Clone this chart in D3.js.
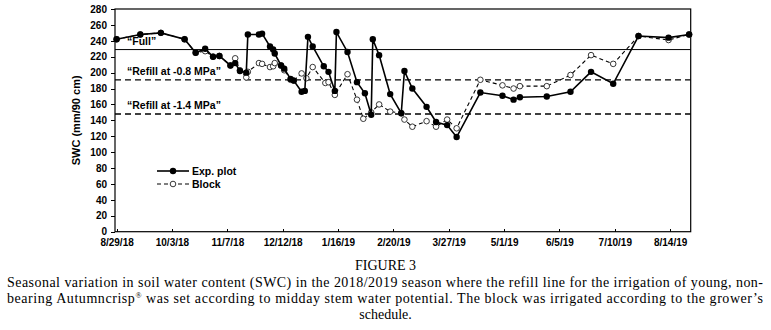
<!doctype html>
<html lang="en">
<head>
<meta charset="utf-8">
<title>SWC 2018/2019</title>
<script src="https://cdn.jsdelivr.net/npm/d3@7"></script>
<style>
	body { margin: 0; background: #fff; }
	.axis text { font: bold 10px "Liberation Sans", Arial, sans-serif; fill: #000; }
	.axis path.domain { stroke: none; }
	.axis line { stroke: #000; shape-rendering: crispEdges; }
	.lbl { font: bold 10.5px "Liberation Sans", Arial, sans-serif; fill: #000; }
	.cap { font: 14px "Liberation Serif", "Times New Roman", serif; fill: #000; }
</style>
</head>
<body>
<div id="viz"></div>
<script>
// readings
var expDates = ["8/29/18","9/13/18","9/26/18","10/11/18","10/18/18","10/24/18","10/29/18","11/2/18","11/9/18","11/12/18",
	"11/15/18","11/19/18","11/20/18","11/27/18","11/29/18","12/4/18","12/6/18","12/7/18","12/11/18","12/13/18",
	"12/17/18","12/19/18","12/24/18","12/26/18","12/28/18","12/31/18","1/7/19","1/10/19","1/14/19","1/15/19",
	"1/22/19","1/28/19","2/2/19","2/6/19","2/7/19","2/11/19","2/18/19","2/25/19","2/27/19","3/4/19",
	"3/13/19","3/19/19","3/26/19","4/1/19","4/16/19","4/30/19","5/7/19","5/11/19","5/28/19","6/12/19",
	"6/25/19","7/9/19","7/25/19","8/13/19","8/26/19"];
var expSWC = [242,248,250,242,225,230,220,221,209,212,
	202,200,248,248,249,233,229,224,209,205,
	192,190,176,177,245,233,208,201,177,251,
	226,188,174,147,242,222,173,149,202,180,
	157,138,134,119,175,171,166,169,170,176,
	201,186,246,244,248];

var blockDates = ["8/29/18","9/13/18","9/26/18","10/11/18","10/18/18","10/24/18","10/29/18","11/2/18","11/9/18","11/12/18",
	"11/15/18","11/19/18","11/20/18","11/27/18","11/29/18","12/4/18","12/6/18","12/7/18","12/11/18","12/13/18",
	"12/17/18","12/19/18","12/24/18","12/27/18","12/31/18","1/8/19","1/10/19","1/14/19","1/22/19","1/28/19",
	"2/1/19","2/6/19","2/11/19","2/18/19","2/25/19","2/27/19","3/4/19","3/13/19","3/19/19","3/26/19",
	"4/1/19","4/16/19","4/30/19","5/7/19","5/11/19","5/28/19","6/12/19","6/25/19","7/9/19","7/25/19",
	"8/13/19","8/26/19"];
var blockSWC = [242,248,250,242,225,227,220,221,209,218,
	203,194,201,212,211,207,208,212,209,203,
	191,190,199,193,207,187,188,172,198,166,
	142,150,160,151,149,141,132,139,132,141,
	130,191,184,180,183,183,197,222,211,246,
	241,248];

var refLines = [{name: "“Full”", value: 229, dash: false},
	{name: "“Refill at -0.8 MPa”", value: 191, dash: true},
	{name: "“Refill at -1.4 MPa”", value: 148, dash: true}];

var xTicks = ["8/29/18","10/3/18","11/7/18","12/12/18","1/16/19","2/20/19","3/27/19","5/1/19","6/5/19","7/10/19","8/14/19"];
var yTicks = d3.range(0, 281, 20);

var caption1 = "Seasonal variation in soil water content (SWC) in the 2018/2019 season where the refill line for the irrigation of young, non-";
var caption3 = "schedule.";

(function(d3) {
	var w = 771, h = 330;
	var left = 115, right = 690.7, top = 9, bottom = 231.7;
	var parse = d3.timeParse("%m/%d/%y");

	var exp = expDates.map((d, i) => ({date: parse(d), v: expSWC[i]}));
	var block = blockDates.map((d, i) => ({date: parse(d), v: blockSWC[i]}));

	var xScale = d3.scaleTime()
		.domain([parse("8/28/18"), parse("8/27/19")])
		.range([left, right]);
	var yScale = d3.scaleLinear()
		.domain([0, 280])
		.range([bottom, top]);

	var svg = d3.select("#viz").append("svg")
		.attr("width", w)
		.attr("height", h);

	// axes
	svg.append("g")
		.attr("class", "axis")
		.attr("transform", "translate(" + left + ",0)")
		.call(d3.axisLeft(yScale).tickValues(yTicks).tickSize(4).tickPadding(4));

	svg.append("g")
		.attr("class", "axis")
		.attr("transform", "translate(0," + bottom + ")")
		.call(d3.axisBottom(xScale).tickValues(xTicks.map(parse))
			.tickFormat(d3.timeFormat("%-m/%-d/%y")).tickSize(-3).tickPadding(5))
		.selectAll("text").attr("dy", "0.95em");

	// plot frame
	svg.append("rect")
		.attr("x", left).attr("y", top)
		.attr("width", right - left).attr("height", bottom - top)
		.style("fill", "none").style("stroke", "#000").style("stroke-width", 1.2);

	// reference lines
	svg.selectAll("line.ref")
		.data(refLines).enter()
		.append("line")
		.attr("class", "ref")
		.attr("x1", left).attr("x2", right)
		.attr("y1", d => yScale(d.value)).attr("y2", d => yScale(d.value))
		.style("stroke", "#000")
		.style("stroke-width", d => d.dash ? 1.3 : 1)
		.style("stroke-dasharray", d => d.dash ? "6,4" : null);

	svg.selectAll("text.ref")
		.data(refLines).enter()
		.append("text")
		.attr("class", "lbl")
		.attr("x", 127)
		.attr("y", d => yScale(d.value) - 4.5)
		.text(d => d.name);

	var line = d3.line()
		.x(d => xScale(d.date))
		.y(d => yScale(d.v));

	// block (grower's schedule)
	svg.append("path")
		.attr("d", line(block))
		.style("fill", "none").style("stroke", "#000")
		.style("stroke-width", 1.1).style("stroke-dasharray", "4,3");
	svg.selectAll("circle.block")
		.data(block).enter()
		.append("circle")
		.attr("class", "block")
		.attr("cx", d => xScale(d.date)).attr("cy", d => yScale(d.v))
		.attr("r", 2.8)
		.style("fill", "#fff").style("stroke", "#222").style("stroke-width", 0.9);

	// experimental plot
	svg.append("path")
		.attr("d", line(exp))
		.style("fill", "none").style("stroke", "#000").style("stroke-width", 1.6);
	svg.selectAll("circle.exp")
		.data(exp).enter()
		.append("circle")
		.attr("class", "exp")
		.attr("cx", d => xScale(d.date)).attr("cy", d => yScale(d.v))
		.attr("r", 3.2)
		.style("fill", "#000");

	// legend
	var legend = svg.append("g");
	legend.append("line")
		.attr("x1", 157).attr("x2", 189).attr("y1", 171).attr("y2", 171)
		.style("stroke", "#000").style("stroke-width", 1.6);
	legend.append("circle").attr("cx", 173).attr("cy", 171).attr("r", 3.2).style("fill", "#000");
	legend.append("text").attr("class", "lbl").attr("x", 192).attr("y", 174.7).text("Exp. plot");
	legend.append("line")
		.attr("x1", 157).attr("x2", 189).attr("y1", 184).attr("y2", 184)
		.style("stroke", "#000").style("stroke-width", 1.1).style("stroke-dasharray", "4,3");
	legend.append("circle").attr("cx", 173).attr("cy", 184).attr("r", 2.8)
		.style("fill", "#fff").style("stroke", "#222").style("stroke-width", 0.9);
	legend.append("text").attr("class", "lbl").attr("x", 192).attr("y", 187.7).text("Block");

	// y axis title
	svg.append("text")
		.attr("class", "lbl")
		.style("font-size", "11px")
		.attr("transform", "translate(80," + ((top + bottom) / 2) + ") rotate(-90)")
		.attr("text-anchor", "middle")
		.text("SWC (mm/90 cm)");

	// caption
	svg.append("text").attr("class", "cap")
		.attr("x", 385.5).attr("y", 270).attr("text-anchor", "middle")
		.text("FIGURE 3");
	svg.append("text").attr("class", "cap")
		.attr("x", 7).attr("y", 286.7)
		.attr("textLength", 756).attr("lengthAdjust", "spacing")
		.text(caption1);
	var c2 = svg.append("text").attr("class", "cap")
		.attr("x", 7).attr("y", 302.7)
		.attr("textLength", 756).attr("lengthAdjust", "spacing");
	c2.append("tspan").text("bearing Autumncrisp");
	c2.append("tspan").attr("dy", -5).style("font-size", "8px").text("®");
	c2.append("tspan").attr("dy", 5).text(" was set according to midday stem water potential. The block was irrigated according to the grower’s");
	svg.append("text").attr("class", "cap")
		.attr("x", 385.5).attr("y", 318.7).attr("text-anchor", "middle")
		.text(caption3);
})(d3);
</script>
</body>
</html>
